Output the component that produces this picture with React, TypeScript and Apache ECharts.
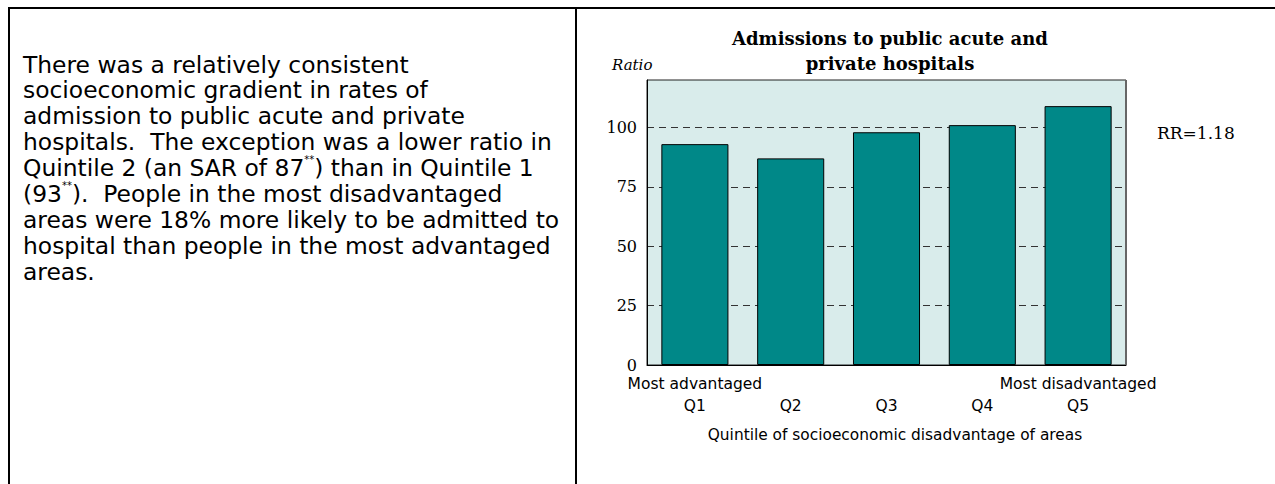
import React, { useEffect, useRef } from "react";
import * as echarts from "echarts";

const categories = ["Q1", "Q2", "Q3", "Q4", "Q5"];
const endLabels = ["Most advantaged", "", "", "", "Most disadvantaged"];
const sarValues = [93, 87, 98, 101, 109];
const yTicks = { min: 0, max: 120, interval: 25 };
const chartTitle = "Admissions to public acute and\nprivate hospitals";
const yName = "Ratio";
const xName = "Quintile of socioeconomic disadvantage of areas";
const rrLabel = "RR=1.18";
const paragraph: string[] = [
  "There was a relatively consistent",
  "socioeconomic gradient in rates of",
  "admission to public acute and private",
  "hospitals.  The exception was a lower ratio in",
  "Quintile 2 (an SAR of 87{s|**}) than in Quintile 1",
  "(93{s|**}).  People in the most disadvantaged",
  "areas were 18% more likely to be admitted to",
  "hospital than people in the most advantaged",
  "areas.",
];

export default function App() {
  const ref = useRef<HTMLDivElement>(null);
  useEffect(() => {
    if (!ref.current) return;
    const chart = echarts.init(ref.current, undefined, { renderer: "svg" });
    const serif = "DejaVu Serif";
    const sans = "DejaVu Sans";
    const paraTexts = paragraph.map((line, i) => ({
      type: "text",
      left: 23,
      top: 51 + i * 25.9,
      style: {
        text: line,
        fontFamily: sans,
        fontSize: 23.4,
        lineHeight: 27,
        fill: "#000",
        rich: {
          s: { fontSize: 10, fontFamily: sans, verticalAlign: "top", lineHeight: 27, fill: "#000" },
        },
      },
    }));
    const gridColors = ["#333", "#333", "#333", "#333", "#333", "rgba(0,0,0,0)"];
    chart.setOption({
      animation: false,
      backgroundColor: "#fff",
      title: {
        text: chartTitle,
        left: 885,
        top: 21,
        textAlign: "center",
        textStyle: {
          fontFamily: serif,
          fontWeight: "bold",
          fontSize: 18,
          lineHeight: 25,
          color: "#000",
        },
      },
      grid: {
        left: 647,
        right: 149,
        top: 80,
        bottom: 119,
        show: true,
        backgroundColor: "#d9eceb",
        borderColor: "#222",
        borderWidth: 1,
      },
      xAxis: {
        type: "category",
        data: categories,
        axisTick: { show: false },
        axisLine: { lineStyle: { color: "#000", width: 1 } },
        axisLabel: {
          interval: 0,
          margin: 8,
          fontFamily: sans,
          fontSize: 15.5,
          lineHeight: 22,
          color: "#000",
          formatter: (v: string, i: number) => `${endLabels[i] || " "}\n${v}`,
        },
        name: xName,
        nameLocation: "middle",
        nameGap: 62,
        nameTextStyle: {
          fontFamily: sans,
          fontSize: 15.4,
          color: "#000",
          padding: [0, 0, 0, 17],
        },
      },
      yAxis: {
        type: "value",
        min: yTicks.min,
        max: yTicks.max,
        interval: yTicks.interval,
        axisLine: { show: true, lineStyle: { color: "#000", width: 1 } },
        axisTick: { show: false },
        axisLabel: {
          margin: 10,
          fontFamily: serif,
          fontSize: 16,
          color: "#000",
          showMaxLabel: false,
        },
        splitLine: {
          show: true,
          lineStyle: { color: gridColors, type: [7, 5], width: 1 },
        },
      },
      series: [
        {
          type: "bar",
          data: sarValues,
          barWidth: "70%",
          itemStyle: { color: "#008888", borderColor: "#000", borderWidth: 1 },
        },
      ],
      graphic: [
        { type: "line", shape: { x1: 8, y1: 8, x2: 1275, y2: 8 }, style: { stroke: "#000", lineWidth: 2 } },
        { type: "line", shape: { x1: 9, y1: 7, x2: 9, y2: 484 }, style: { stroke: "#000", lineWidth: 2 } },
        { type: "line", shape: { x1: 576, y1: 7, x2: 576, y2: 484 }, style: { stroke: "#000", lineWidth: 2 } },
        { type: "line", shape: { x1: 1126, y1: 80, x2: 1126, y2: 365 }, style: { stroke: "#666", lineWidth: 2 } },
        ...paraTexts,
        {
          type: "text",
          left: 612,
          top: 57,
          style: { text: yName, fontFamily: serif, fontStyle: "italic", fontSize: 15, fill: "#000" },
        },
        {
          type: "text",
          left: 1157,
          top: 124,
          style: { text: rrLabel, fontFamily: serif, fontSize: 17, fill: "#000" },
        },
      ],
    });
    return () => chart.dispose();
  }, []);
  return (
    <div
      ref={ref}
      style={{ position: "absolute", left: 0, top: 0, width: 1275, height: 484 }}
    />
  );
}
